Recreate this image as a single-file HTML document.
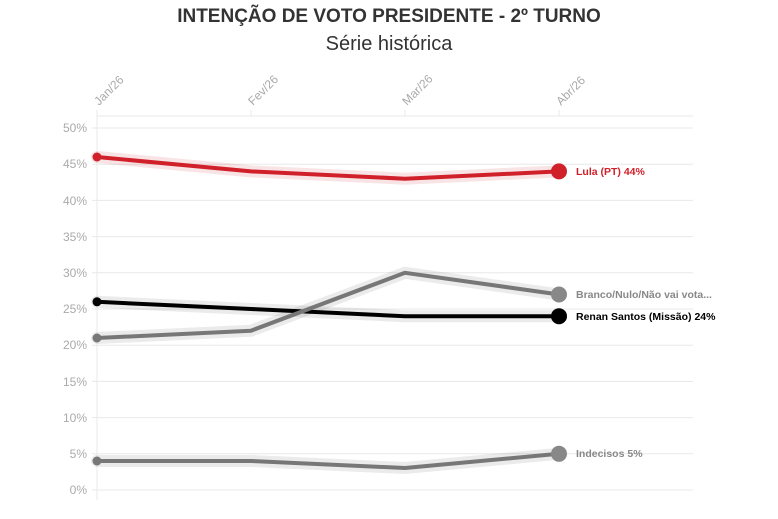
<!DOCTYPE html><html><head><style>body{margin:0;background:#fff;font-family:"Liberation Sans",sans-serif}</style></head><body>
<svg width="778" height="514" xmlns="http://www.w3.org/2000/svg" font-family="Liberation Sans, sans-serif">
<text x="389" y="22" text-anchor="middle" font-size="19" font-weight="bold" fill="#333">INTENÇÃO DE VOTO PRESIDENTE - 2º TURNO</text>
<text x="389" y="50" text-anchor="middle" font-size="20" fill="#333">Série histórica</text>
<g stroke="#e8e8e8" stroke-width="1">
<line x1="97" y1="116" x2="693" y2="116"/>
<line x1="92" y1="128" x2="693" y2="128"/><line x1="92" y1="164.2" x2="693" y2="164.2"/><line x1="92" y1="200.4" x2="693" y2="200.4"/><line x1="92" y1="236.6" x2="693" y2="236.6"/><line x1="92" y1="272.8" x2="693" y2="272.8"/><line x1="92" y1="309" x2="693" y2="309"/><line x1="92" y1="345.2" x2="693" y2="345.2"/><line x1="92" y1="381.4" x2="693" y2="381.4"/><line x1="92" y1="417.6" x2="693" y2="417.6"/><line x1="92" y1="453.8" x2="693" y2="453.8"/><line x1="92" y1="490" x2="693" y2="490"/>
<line x1="97" y1="110" x2="97" y2="500"/><line x1="251" y1="110" x2="251" y2="116"/><line x1="405" y1="110" x2="405" y2="116"/><line x1="559" y1="110" x2="559" y2="116"/>
</g>
<g font-size="12" fill="#aaa" text-anchor="end">
<text x="87" y="132">50%</text><text x="87" y="168">45%</text><text x="87" y="205">40%</text><text x="87" y="241">35%</text><text x="87" y="277">30%</text><text x="87" y="313">25%</text><text x="87" y="349">20%</text><text x="87" y="386">15%</text><text x="87" y="422">10%</text><text x="87" y="458">5%</text><text x="87" y="494">0%</text>
</g>
<g font-size="12" fill="#aaa">
<text transform="translate(99,106) rotate(-45)">Jan/26</text><text transform="translate(253,106) rotate(-45)">Fev/26</text><text transform="translate(407,106) rotate(-45)">Mar/26</text><text transform="translate(561,106) rotate(-45)">Abr/26</text>
</g>
<g fill="none" stroke-linejoin="round" stroke-linecap="round">
<polyline points="97,157 251,171.4 405,178.7 559,171.4" stroke="#d0202a" stroke-opacity="0.12" stroke-width="12"/>
<polyline points="97,157 251,171.4 405,178.7 559,171.4" stroke="#d0202a" stroke-width="4"/>
<polyline points="97,461 251,461 405,468 559,453.8" stroke="#777" stroke-opacity="0.15" stroke-width="12"/>
<polyline points="97,461 251,461 405,468 559,453.8" stroke="#777" stroke-width="4"/>
<polyline points="97,301.8 251,309 405,316.2 559,316.2" stroke="#000" stroke-opacity="0.08" stroke-width="12"/>
<polyline points="97,338 251,330.7 405,272.8 559,294.5" stroke="#777" stroke-opacity="0.15" stroke-width="12"/>
<polyline points="97,301.8 251,309 405,316.2 559,316.2" stroke="#000" stroke-width="4"/>
<polyline points="97,338 251,330.7 405,272.8 559,294.5" stroke="#777" stroke-width="4"/>
</g>
<circle cx="97" cy="157" r="4.5" fill="#d0202a"/><circle cx="97" cy="301.8" r="4.5" fill="#000"/><circle cx="97" cy="338" r="4.5" fill="#777"/><circle cx="97" cy="461" r="4.5" fill="#777"/>
<circle cx="559" cy="171.4" r="8" fill="#d0202a"/><circle cx="559" cy="294.5" r="8" fill="#888"/><circle cx="559" cy="316.2" r="8" fill="#000"/><circle cx="559" cy="453.8" r="8" fill="#888"/>
<g font-size="10.5" font-weight="bold">
<text x="576" y="175" fill="#d0202a">Lula (PT) 44%</text>
<text x="576" y="298" fill="#888">Branco/Nulo/Não vai vota...</text>
<text x="576" y="320" fill="#000">Renan Santos (Missão) 24%</text>
<text x="576" y="457" fill="#888">Indecisos 5%</text>
</g>
</svg></body></html>
